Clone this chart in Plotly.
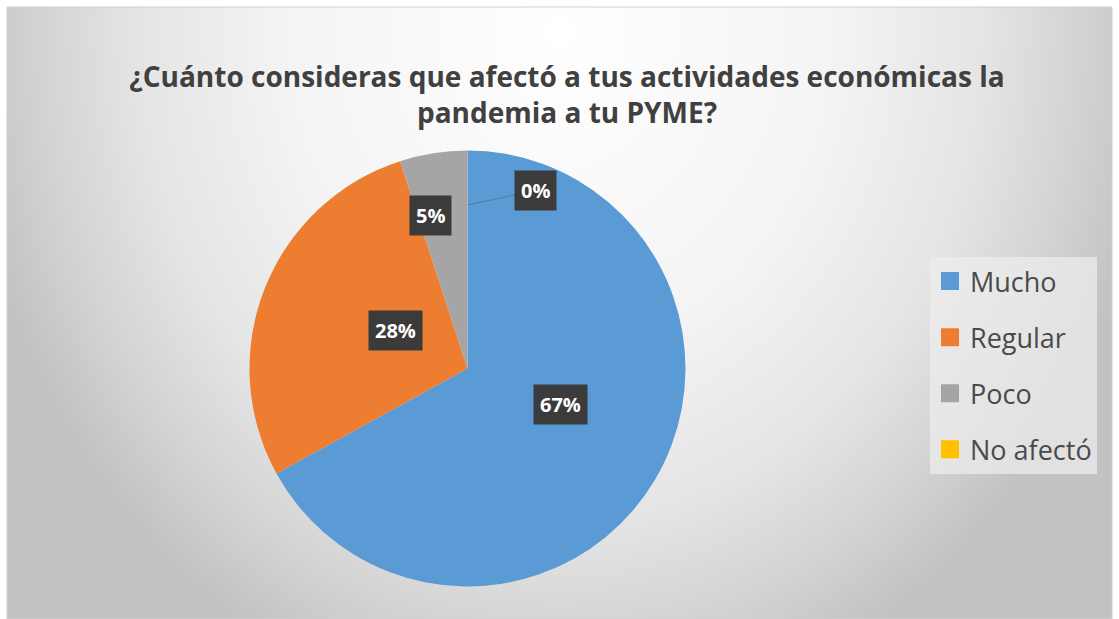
import math
import plotly.graph_objects as go

# ---------------- data ----------------
categories = ["Mucho", "Regular", "Poco", "No afectó"]
values = [67, 28, 5, 0]
colors = ["#5B9BD5", "#ED7D31", "#A5A5A5", "#FFC000"]
title_lines = ["¿Cuánto consideras que afectó a tus actividades económicas la",
               "pandemia a tu PYME?"]

# ---------------- layout constants (styles / positions) ----------------
W, H = 1119, 619
ML, MT, MR, MB = 7, 7, 7, 0
PW, PH = W - ML - MR, H - MT - MB


def xp(px):
    return (px - ML) / PW


def yp(py):
    return 1 - (py - MT) / PH


CX, CY, R = 467.5, 368.5, 218          # pie centre / radius in window pixels
label_r = [0.50, 0.49, 0.72, 0.875]     # label distance (fraction of radius)
label_nudge = [0.6, -0.5, -4.5, 21]     # label angular nudge (deg)

fig = go.Figure()

# background radial gradient (chart area)
gx0, gx1, gy0, gy1 = -40, 1160, -670, 730
fig.add_trace(go.Scatter(
    x=[gx0, gx1, gx1, gx0, gx0], y=[gy0, gy0, gy1, gy1, gy0],
    mode="lines", fill="toself", line=dict(width=0),
    fillgradient=dict(type="radial",
                      colorscale=[[0, "#ffffff"], [0.45, "#f4f4f4"], [0.7, "#e5e5e5"],
                                  [0.85, "#d5d5d5"], [1, "#c2c2c2"]]),
    hoverinfo="skip", showlegend=False))

# pie
fig.add_trace(go.Pie(
    labels=categories, values=values, sort=False, direction="clockwise", rotation=0,
    marker=dict(colors=colors, line=dict(width=0)),
    textinfo="none", showlegend=False, hoverinfo="label+percent",
    domain=dict(x=[xp(CX - R), xp(CX + R)], y=[yp(CY + R), yp(CY - R)])))

# legend entries
for cat, col in zip(categories, colors):
    fig.add_trace(go.Scatter(
        x=[None], y=[None], mode="markers", name=cat, legendgroup=cat,
        marker=dict(symbol="square", size=16, color=col, line=dict(color=col, width=2)),
        hoverinfo="skip"))

# data labels
total = sum(values)
annotations = []
cum = 0
for i, v in enumerate(values):
    mid = (cum + v / 2) / total * 360 + label_nudge[i]
    r = label_r[i] * R
    lx = CX + r * math.sin(math.radians(mid))
    ly = CY - r * math.cos(math.radians(mid))
    txt = f"{round(v / total * 100)}%"
    common = dict(text=txt, xref="paper", yref="paper",
                  font=dict(family="Open Sans", size=20, color="white", weight="bold"),
                  bgcolor="#3b3b3b", borderpad=6)
    if v == 0:
        start = cum / total * 360
        tr = 0.75 * R
        tx = CX + tr * math.sin(math.radians(start))
        ty = CY - tr * math.cos(math.radians(start))
        annotations.append(dict(x=xp(tx), y=yp(ty), showarrow=True, arrowhead=0,
                                arrowwidth=1, arrowcolor="rgba(60,60,60,0.35)",
                                ax=lx - tx, ay=ly - ty, **common))
    else:
        annotations.append(dict(x=xp(lx), y=yp(ly), showarrow=False, **common))
    cum += v

fig.update_layout(
    width=W, height=H,
    margin=dict(l=ML, r=MR, t=MT, b=MB),
    paper_bgcolor="white", plot_bgcolor="white",
    xaxis=dict(visible=False, range=[ML, W - MR], fixedrange=True),
    yaxis=dict(visible=False, range=[H - MB, MT], fixedrange=True),
    title=dict(text="<br>".join(title_lines), x=567 / W, xref="container", xanchor="center",
               y=1 - 87 / H, yref="container", yanchor="middle",
               font=dict(family="Open Sans", size=28, color="#404040", weight="bold")),
    legend=dict(x=xp(930), y=yp(257), xanchor="left", yanchor="top",
                bgcolor="rgba(238,238,238,0.7)", traceorder="grouped", tracegroupgap=18,
                font=dict(family="Open Sans", size=27, color="#4a4a4a")),
    annotations=annotations,
    shapes=[dict(type="rect", xref="paper", yref="paper", x0=0, x1=1, y0=0, y1=1,
                 line=dict(color="#d0d0d0", width=1), layer="above")],
    showlegend=True,
)

fig.write_html("out.html", config={"displayModeBar": False},
               post_script="document.body.style.margin='0';")
